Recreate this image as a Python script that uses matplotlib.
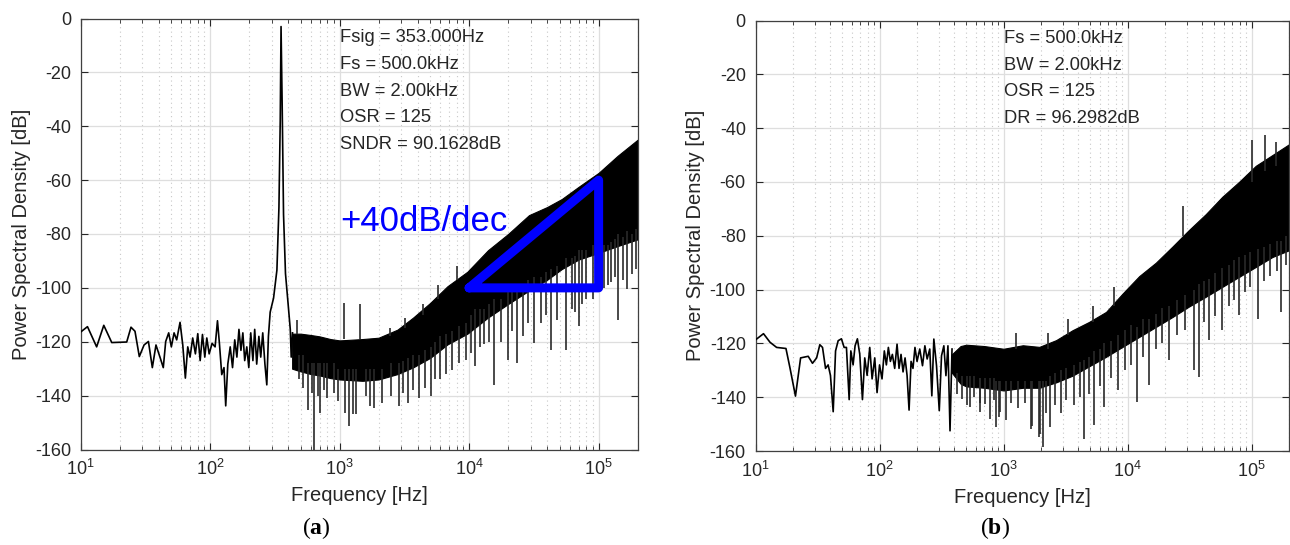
import matplotlib
matplotlib.use("Agg")
import matplotlib.pyplot as plt
from matplotlib.ticker import LogLocator, FixedLocator

plt.rcParams['font.family'] = ['Liberation Sans', 'DejaVu Sans']
plt.rcParams['axes.unicode_minus'] = False
plt.rcParams['mathtext.fontset'] = 'custom'
plt.rcParams['mathtext.rm'] = 'Liberation Sans'
plt.rcParams['mathtext.bf'] = 'Liberation Serif:bold'
plt.rcParams['mathtext.default'] = 'regular'

# ---- panel (a): sparse part of the spectrum + signal tone ----
a_line_f = [10, 11.3, 13.3, 15.1, 17.4, 22.7, 24.5, 26.3, 28.4, 30.9, 33.4, 35.8, 38.2, 41.0,
            43.5, 45.4, 47.9, 50.2, 52.7, 55.2, 58.6, 61.5, 64.4, 67.2, 70.0, 73.4, 77.0, 80.3,
            83.8, 87.3, 91.0, 94.3, 98.3, 103.6, 109.3, 114, 118, 123, 128, 132, 137, 143, 149,
            155, 161, 167, 173, 179, 185, 192, 199, 206, 214, 221, 229, 238, 246, 255, 265, 274,
            282, 291, 309, 328, 340, 348, 353, 360, 369, 382, 401, 416, 423, 433]
a_line_db = [-116.4, -114.4, -121.9, -113.9, -120.3, -120.1, -114.6, -116.1, -125.5, -121.2,
             -119.9, -129.6, -121.2, -125.7, -129.6, -119.9, -116.7, -121.9, -116.7, -119.3,
             -112.8, -121.2, -133.5, -121.9, -125.7, -118.6, -124.5, -117.0, -127.0, -117.3,
             -125.7, -118.6, -124.5, -120.6, -121.9, -112.2, -120.6, -132.2, -129.6, -143.8,
             -128.3, -121.9, -129.6, -119.3, -125.7, -115.4, -123.2, -116.7, -127.0, -121.9,
             -129.6, -116.7, -127.0, -115.4, -128.3, -118.0, -125.7, -116.7, -128.3, -136.0,
             -118.0, -109.0, -103.8, -93.4, -70.2, -37.9, -3.0, -31.4, -72.8, -94.7, -106.4,
             -115.4, -125.7, -116.7]

# ---- panel (a): dense noise band (upper / lower edge) ----
a_band_f = [430, 500, 600, 700, 850, 1000, 1500, 2000, 2800, 3700, 5000, 6800, 9700, 14000,
            20000, 29000, 40000, 52000, 70000, 100000, 140000, 200000]
a_band_hi = [-117, -117, -117.5, -118, -119, -119.5, -119, -118.5, -115.5, -111, -105.6, -99.4,
             -94, -86, -80, -73, -70, -67, -62.5, -57.3, -51, -45]
a_band_lo = [-130, -131, -132, -132.5, -133.5, -134, -134.5, -134, -132, -129.5, -126, -121,
             -117, -111, -106, -101, -97, -93, -89.5, -87, -84.5, -82]

# ---- panel (a): isolated spikes (freq, bottom, top) ----
a_spike_f = [469, 1077, 1430, 2450, 3200, 4400, 5800, 8000,
             485, 520, 574, 610, 638, 680, 710, 760, 800, 900, 978, 1110, 1175, 1270, 1330,
             1600, 1730, 1850, 2130, 2500, 2870, 3100, 3400, 3700, 4070, 4600, 5040, 5500, 6000,
             6600, 7400, 8400, 9400, 10300, 11200, 12200, 13000, 14300, 15600, 17500, 19800,
             21500, 23600, 26000, 28500, 31700, 36000, 39000, 42700, 48000, 55700, 62000, 66000,
             70600, 75000, 80000, 89700, 95000, 110000, 118000, 125000, 133000, 140000, 155000,
             167000, 180000, 194000]
a_spike_lo = [-117, -119, -119, -118, -115, -110, -104, -97,
              -134, -137, -145.3, -139, -160, -140, -146.5, -138, -141, -139, -142, -146.5,
              -151.4, -147, -147, -140, -144, -144.6, -142.7, -140, -144, -139, -142.7, -138,
              -141, -137, -140.3, -134, -134, -132, -130.4, -128, -126.6, -124, -129, -122,
              -121, -120, -136, -120, -126.6, -116, -128, -118, -113, -120.4, -113, -110, -123,
              -112, -123, -108, -109, -114.2, -106, -104, -104.3, -101, -100, -99, -98, -96,
              -111.8, -97, -100.6, -95, -93]
a_spike_hi = [-112, -105.6, -106, -115, -111, -106, -99, -92,
              -125, -125, -128, -128, -128, -128, -128, -128, -128, -128, -130, -130, -130,
              -130, -130, -130, -130, -130, -130, -128, -128, -127, -126, -125, -125, -123,
              -122, -120, -118, -117, -116, -114, -113, -110, -108, -108, -108, -106, -104,
              -104, -101, -100, -99, -100, -97, -96, -96, -94, -93, -92, -89, -89, -88, -86,
              -86, -86, -84, -84, -84, -84, -83, -82, -80, -81, -79, -80, -78]

# ---- panel (b) ----
b_line_f = [10, 11.6, 13.1, 14.8, 17.6, 19.0, 21.0, 23.1, 26.6, 28.8, 31.1, 33.0, 34.7, 36.7,
            38.5, 40.2, 42.3, 44.2, 46.4, 49.3, 51.8, 54.1, 56.9, 58.7, 61.2, 63.5, 66.3, 69.3,
            72.8, 76.0, 79.4, 83.4, 87.1, 91.5, 95.5, 100, 104.7, 109.3, 113.5, 117.8, 122.3,
            126.9, 132.5, 138.4, 143.6, 149, 154.7, 160.6, 166.7, 173, 179.5, 186, 193, 200.6,
            211, 222, 232, 242, 254, 264, 274, 288, 303, 316, 330, 343, 356, 370, 384]
b_line_db = [-118.7, -116.4, -119.6, -121.5, -121.9, -129.3, -139.6, -125.4, -124.8, -127.4,
             -125.4, -120.5, -121.5, -129.3, -128.0, -131.9, -145.4, -122.8, -119.0, -118.3,
             -121.5, -121.5, -140.9, -122.8, -128.0, -120.9, -118.3, -124.1, -140.9, -125.4,
             -131.9, -121.5, -133.2, -125.4, -138.3, -128.0, -133.2, -122.8, -128.0, -121.5,
             -126.7, -124.1, -129.3, -120.3, -129.3, -124.1, -130.6, -125.4, -131.9, -144.8,
             -126.7, -129.3, -121.5, -126.7, -122.1, -128.3, -120.9, -125.8, -122.1, -139.5,
             -118.4, -128.3, -145.0, -124.6, -120.9, -132.0, -120.9, -152.5, -122.1]

b_band_f = [384, 450, 500, 700, 1000, 1430, 1940, 2650, 3600, 4900, 6700, 9100, 12400, 16900,
            23000, 31000, 42600, 58000, 79000, 108000, 147000, 200000]
b_band_hi = [-124, -121, -120.5, -121, -122, -120.7, -121.3, -118.8, -115.1, -112, -108.3,
             -101.5, -95, -90, -84, -78, -72, -65.5, -60, -54, -50, -46]
b_band_lo = [-131, -135, -136, -136.5, -137.5, -136.5, -136.5, -134.5, -132, -128.5, -125,
             -121.3, -117.6, -113.9, -110.2, -106.4, -102.7, -99, -95.3, -91.6, -87.9, -85.4]

b_spike_f = [27700, 101000, 128000, 156000, 1250, 2300, 3300, 5300, 7800,
             420, 459, 505, 532, 580, 640, 647, 710, 780, 830, 871, 926, 940, 1050, 1150, 1300,
             1500, 1670, 1700, 1940, 1980, 2070, 2200, 2380, 2600, 2900, 3200, 3700, 4100, 4480,
             4900, 5400, 6000, 6500, 7300, 8300, 9500, 10700, 12000, 13400, 14900, 17000, 19000,
             21600, 25000, 29000, 34000, 37700, 41000, 45400, 51000, 58000, 66000, 72000, 79000,
             88000, 97000, 113000, 125000, 140000, 160000, 171000, 190000]
b_spike_lo = [-80, -60, -56, -54, -122, -122, -117, -112, -106,
              -139, -140.7, -143, -143.5, -140, -145.4, -142, -142.5, -148, -141, -151, -147.3,
              -145.6, -148.6, -142, -144, -142, -151.7, -150.6, -154.8, -153.7, -158.5, -146,
              -151, -143, -146, -141, -143, -140, -155.4, -139, -150.4, -136, -143.6, -133,
              -137.4, -130, -128, -141.8, -125, -135.6, -122, -120, -126.3, -117, -115, -130,
              -132.5, -112, -118.8, -110, -115, -106, -104, -109.5, -101, -99, -110.8, -97,
              -95, -93, -108.3, -91]
b_spike_hi = [-69, -44.3, -42.5, -45, -116, -116, -111, -106, -99,
              -131, -132, -132, -132, -132, -133, -133, -133, -133, -133, -134, -134, -134,
              -134, -134, -134, -134, -134, -134, -134, -134, -134, -134, -132, -131, -130,
              -129, -128, -127, -126, -125, -123, -122, -120, -119, -117, -115, -113, -114,
              -111, -111, -109, -107, -106, -104, -102, -100, -98, -97, -96, -94, -92, -91,
              -89, -88, -87, -86, -85, -84, -83, -82, -82, -80]

a_notes = ["Fsig = 353.000Hz", "Fs = 500.0kHz", "BW = 2.00kHz", "OSR = 125", "SNDR = 90.1628dB"]
b_notes = ["Fs = 500.0kHz", "BW = 2.00kHz", "OSR = 125", "DR = 96.2982dB"]

# slope marker corners
tri_f = [1e4, 1e5, 1e5, 1e4]
tri_db = [-100, -100, -60, -100]

yticks = [0, -20, -40, -60, -80, -100, -120, -140, -160]
TXT = '#262626'

fig = plt.figure(figsize=(12.9, 5.45), dpi=100)
ax_a = fig.add_axes([80.6 / 1290, 1 - 449.5 / 545, 557 / 1290, 431 / 545])
ax_b = fig.add_axes([755.5 / 1290, 1 - 451 / 545, 533.5 / 1290, 430.5 / 545])


def style(ax):
    ax.set_xscale('log')
    ax.set_xlim(10, 2e5)
    ax.set_ylim(-160, 0)
    ax.yaxis.set_major_locator(FixedLocator(yticks))
    ax.xaxis.set_major_locator(LogLocator(base=10, numticks=10))
    ax.xaxis.set_minor_locator(LogLocator(base=10, subs=range(2, 10), numticks=20))
    ax.grid(True, which='major', color='#dedede', lw=0.9, ls='-')
    ax.grid(True, which='minor', axis='x', color='#c8c8c8', lw=0.8, ls=(0, (1, 3)))
    ax.set_axisbelow(True)
    ax.tick_params(which='both', direction='in', top=True, right=True, colors=TXT,
                   labelsize=13, pad=7)
    ax.tick_params(which='major', length=5, width=0.8)
    ax.tick_params(which='minor', length=3, width=0.6)
    for s in ax.spines.values():
        s.set_color('#404040')
        s.set_linewidth(0.9)
    ax.set_xlabel('Frequency [Hz]', fontsize=14.5, color=TXT, labelpad=5)
    ax.set_ylabel('Power Spectral Density [dB]', fontsize=14.5, color=TXT, labelpad=3)


for ax in (ax_a, ax_b):
    style(ax)

# panel (a)
ax_a.fill_between(a_band_f, a_band_lo, a_band_hi, color='black', lw=0.8, zorder=2)
ax_a.vlines(a_spike_f, a_spike_lo, a_spike_hi, color='#2a2a2a', lw=1.2, zorder=2)
ax_a.plot(a_line_f, a_line_db, color='black', lw=1.2, zorder=3)
ax_a.plot(tri_f, tri_db, color='#0000ff', lw=6.5, solid_joinstyle='round',
          solid_capstyle='round', zorder=4)
ax_a.text(0.4655, 0.529, '+40dB/dec', transform=ax_a.transAxes, fontsize=25,
          color='#0000ff', va='center', ha='left', zorder=5)
for i, s in enumerate(a_notes):
    ax_a.text(0.4655, 0.955 - i * 0.0617, s, transform=ax_a.transAxes, fontsize=13.2,
              color=TXT, va='center', ha='left', zorder=5)

# panel (b)
ax_b.fill_between(b_band_f, b_band_lo, b_band_hi, color='black', lw=0.8, zorder=2)
ax_b.vlines(b_spike_f, b_spike_lo, b_spike_hi, color='#2a2a2a', lw=1.2, zorder=2)
ax_b.plot(b_line_f, b_line_db, color='black', lw=1.2, zorder=3)
for i, s in enumerate(b_notes):
    ax_b.text(0.466, 0.958 - i * 0.0618, s, transform=ax_b.transAxes, fontsize=13.2,
              color=TXT, va='center', ha='left', zorder=5)

fig.text(316.7 / 1290, 1 - 528 / 545, r'($\mathbf{a}$)', family='Liberation Serif',
         fontsize=17, ha='center', va='center')
fig.text(995 / 1290, 1 - 528 / 545, r'($\mathbf{b}$)', family='Liberation Serif',
         fontsize=17, ha='center', va='center')

fig.savefig('out.png', dpi=100)
